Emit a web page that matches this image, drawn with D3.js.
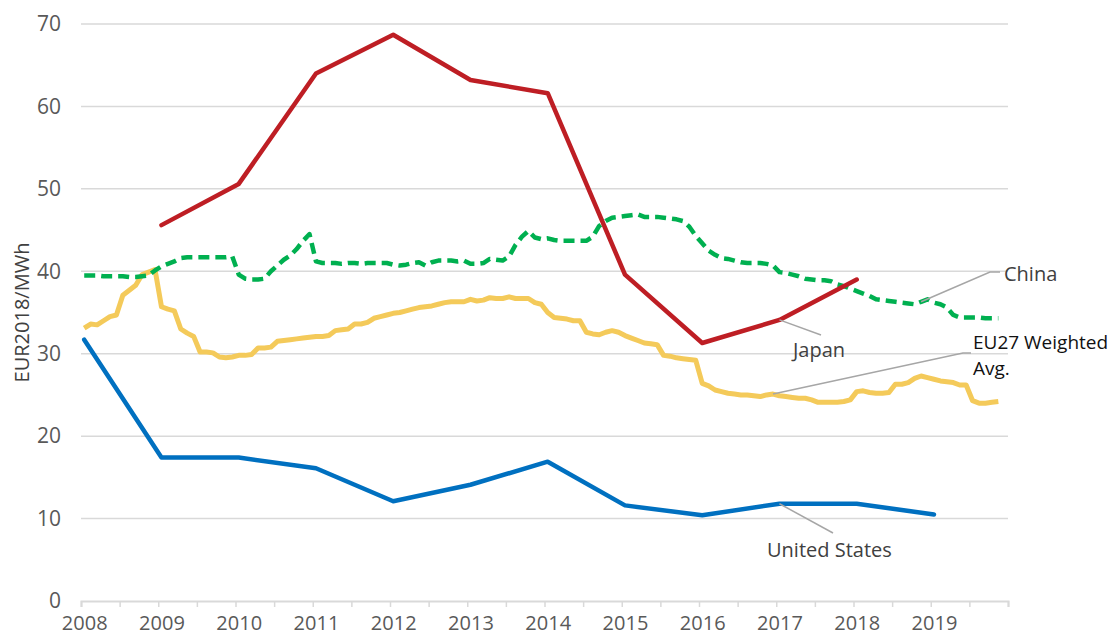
<!DOCTYPE html>
<html>
<head>
<meta charset="utf-8">
<script src="https://cdn.jsdelivr.net/npm/d3@7"></script>
<style>
body{margin:0;background:#fff;}
svg{display:block;font-family:"Open Sans",sans-serif;}
</style>
</head>
<body>
<div id="chart"></div>
<script>
// Coal/power price comparison, EUR2018/MWh. Monthly series start Jan 2008.

const START_YEAR = 2008;
const YEAR_LABELS = [2008, 2009, 2010, 2011, 2012, 2013, 2014, 2015, 2016, 2017, 2018, 2019];
const Y_TICKS = [0, 10, 20, 30, 40, 50, 60, 70];

const usYears = [2008, 2009, 2010, 2011, 2012, 2013, 2014, 2015, 2016, 2017, 2018, 2019];
const usValues = [31.7, 17.4, 17.4, 16.1, 12.1, 14.1, 16.9, 11.6, 10.4, 11.8, 11.8, 10.5];

const japanYears = [2009, 2010, 2011, 2012, 2013, 2014, 2015, 2016, 2017, 2018];
const japanValues = [45.6, 50.6, 64.0, 68.7, 63.2, 61.6, 39.6, 31.3, 34.1, 39.0];

const chinaMonthly = [
  39.5, 39.5, 39.5, 39.4, 39.4, 39.4, 39.4, 39.3, 39.3, 39.4, 39.5, 40.1,
  40.6, 40.9, 41.2, 41.6, 41.7, 41.7, 41.7, 41.7, 41.7, 41.7, 41.7, 41.8,
  39.6, 39.1, 39.0, 39.0, 39.1, 40.0, 40.7, 41.4, 41.9, 42.7, 43.7, 44.5,
  41.2, 41.0, 41.0, 41.0, 40.9, 41.0, 41.0, 40.9, 41.0, 41.0, 41.0, 41.0,
  40.8, 40.7, 40.8, 41.0, 41.1, 40.7, 41.1, 41.3, 41.3, 41.3, 41.2, 41.3,
  40.9, 40.9, 41.0, 41.5, 41.4, 41.3, 41.8, 43.2, 44.2, 44.9, 44.1, 43.9,
  44.0, 43.8, 43.7, 43.7, 43.7, 43.7, 43.7, 44.2, 45.5, 46.1, 46.5, 46.6,
  46.7, 46.8, 46.9, 46.6, 46.6, 46.6, 46.5, 46.4, 46.3, 46.1, 45.4, 44.3,
  43.4, 42.5, 42.0, 41.6, 41.5, 41.3, 41.1, 41.0, 41.0, 41.0, 40.9, 40.7,
  39.9, 39.8, 39.6, 39.4, 39.1, 39.0, 38.9, 38.9, 38.8, 38.4, 38.2, 37.9,
  37.6, 37.3, 37.0, 36.6, 36.5, 36.4, 36.3, 36.2, 36.1, 36.0, 36.3, 36.6,
  36.2, 36.0, 35.6, 34.7, 34.4, 34.4, 34.4, 34.4, 34.3, 34.3, 34.3
];

const eu27Monthly = [
  33.1, 33.6, 33.5, 34.0, 34.5, 34.7, 37.1, 37.7, 38.3, 39.6, 39.9, 40.2,
  35.7, 35.4, 35.2, 33.0, 32.5, 32.1, 30.2, 30.2, 30.1, 29.6, 29.5, 29.6,
  29.8, 29.8, 29.9, 30.7, 30.7, 30.8, 31.5, 31.6, 31.7, 31.8, 31.9, 32.0,
  32.1, 32.1, 32.2, 32.8, 32.9, 33.0, 33.6, 33.6, 33.8, 34.3, 34.5, 34.7,
  34.9, 35.0, 35.2, 35.4, 35.6, 35.7, 35.8, 36.0, 36.2, 36.3, 36.3, 36.3,
  36.6, 36.4, 36.5, 36.8, 36.7, 36.7, 36.9, 36.7, 36.7, 36.7, 36.2, 36.0,
  35.0, 34.4, 34.3, 34.2, 34.0, 34.0, 32.6, 32.4, 32.3, 32.6, 32.8, 32.6,
  32.2, 31.9, 31.6, 31.3, 31.2, 31.1, 29.8, 29.7, 29.5, 29.4, 29.3, 29.2,
  26.4, 26.1, 25.6, 25.4, 25.2, 25.1, 25.0, 25.0, 24.9, 24.8, 25.0, 25.1,
  24.9, 24.8, 24.7, 24.6, 24.6, 24.4, 24.1, 24.1, 24.1, 24.1, 24.2, 24.4,
  25.4, 25.5, 25.3, 25.2, 25.2, 25.3, 26.3, 26.3, 26.5, 27.0, 27.3, 27.1,
  26.9, 26.7, 26.6, 26.5, 26.2, 26.2, 24.3, 24.0, 24.0, 24.1, 24.2
];

const RED = "#BE1E24";
const BLUE = "#0070C0";
const GREEN = "#00B050";
const YELLOW = "#F4CA5A";
const GRID = "#D9D9D9";
const LEADER = "#A6A6A6";

const width = 1117, height = 636;
const svg = d3.select("#chart").append("svg")
  .attr("width", width)
  .attr("height", height);

// x in months since Jan 2008, points sit in the middle of their month
const x = d3.scaleLinear().domain([0, 144]).range([81, 1008]);
const y = d3.scaleLinear().domain([0, 70]).range([601, 24]);
const mx = m => x(m + 0.5);
const yearMonth = yr => (yr - START_YEAR) * 12;

// gridlines
svg.append("g")
  .selectAll("line")
  .data(Y_TICKS.filter(d => d > 0))
  .enter().append("line")
  .attr("x1", x(0)).attr("x2", x(144))
  .attr("y1", d => y(d)).attr("y2", d => y(d))
  .attr("stroke", GRID)
  .attr("stroke-width", 1.5);

// y axis labels
const yAxis = svg.append("g")
  .attr("transform", `translate(${x(0)},0)`)
  .call(d3.axisLeft(y).tickValues(Y_TICKS).tickSize(0).tickPadding(20));
yAxis.select(".domain").remove();
yAxis.selectAll("text")
  .attr("fill", "#595959")
  .style("font-size", "21px")
  .style("font-family", "'Open Sans', sans-serif");

// x axis: half-year ticks, year labels centred on January
const halfYears = d3.range(0, 145, 6);
const xAxis = svg.append("g")
  .attr("transform", `translate(0,${y(0)})`)
  .call(d3.axisBottom(x).tickValues(halfYears).tickSize(6).tickFormat(""));
xAxis.select(".domain").attr("stroke", GRID).attr("stroke-width", 2);
xAxis.selectAll(".tick line").attr("stroke", GRID).attr("stroke-width", 1.5);

const xLabels = svg.append("g")
  .attr("transform", `translate(0,${y(0)})`)
  .call(d3.axisBottom(x)
    .tickValues(YEAR_LABELS.map(yr => yearMonth(yr) + 0.5))
    .tickSize(0).tickPadding(15)
    .tickFormat(d => START_YEAR + Math.floor(d / 12)));
xLabels.select(".domain").remove();
xLabels.selectAll("text")
  .attr("fill", "#595959")
  .style("font-size", "20px")
  .style("font-family", "'Open Sans', sans-serif");

// y title
svg.append("text")
  .attr("transform", `translate(29,${(y(0) + y(70)) / 2}) rotate(-90)`)
  .attr("text-anchor", "middle")
  .attr("fill", "#404040")
  .style("font-size", "20px")
  .text("EUR2018/MWh");

const line = d3.line()
  .x(d => mx(d.m))
  .y(d => y(d.v));

const eu27 = eu27Monthly.map((v, i) => ({ m: i, v }));
const china = chinaMonthly.map((v, i) => ({ m: i, v }));
const us = usValues.map((v, i) => ({ m: yearMonth(usYears[i]), v }));
const japan = japanValues.map((v, i) => ({ m: yearMonth(japanYears[i]), v }));

svg.append("path").datum(eu27)
  .attr("d", line)
  .attr("fill", "none")
  .attr("stroke", YELLOW)
  .attr("stroke-width", 5)
  .attr("stroke-linejoin", "round");

svg.append("path").datum(us)
  .attr("d", line)
  .attr("fill", "none")
  .attr("stroke", BLUE)
  .attr("stroke-width", 4.5)
  .attr("stroke-linejoin", "round")
  .attr("stroke-linecap", "round");

svg.append("path").datum(china)
  .attr("d", line)
  .attr("fill", "none")
  .attr("stroke", GREEN)
  .attr("stroke-width", 4.5)
  .attr("stroke-dasharray", "11,6")
  .attr("stroke-linejoin", "round");

svg.append("path").datum(japan)
  .attr("d", line)
  .attr("fill", "none")
  .attr("stroke", RED)
  .attr("stroke-width", 4.5)
  .attr("stroke-linejoin", "round")
  .attr("stroke-linecap", "round");

// data labels with leader lines
function leader(pt, pts){
  svg.append("polyline")
    .attr("points", [[mx(pt.m), y(pt.v)]].concat(pts).map(p => p.join(",")).join(" "))
    .attr("fill", "none")
    .attr("stroke", LEADER)
    .attr("stroke-width", 1.5);
}

leader(china[130], [[990, 272], [1000, 272]]);
leader(japan[8], [[821, 335]]);
leader(eu27[107], [[963, 353], [971, 353]]);
leader(us[9], [[833, 533]]);

const labels = [
  { text: ["China"], x: 1004, y: 281, size: 20, fill: "#404040" },
  { text: ["Japan"], x: 793, y: 357, size: 20, fill: "#404040" },
  { text: ["United States"], x: 767, y: 557, size: 20, fill: "#404040" },
  { text: ["EU27 Weighted", "Avg."], x: 973, y: 349, size: 19, fill: "#111" }
];
const labelText = svg.append("g").selectAll("text")
  .data(labels)
  .enter().append("text")
  .attr("x", d => d.x)
  .attr("y", d => d.y)
  .attr("fill", d => d.fill)
  .style("font-size", d => d.size + "px");
labelText.selectAll("tspan")
  .data(d => d.text.map((t, i) => ({ t, i, x: d.x })))
  .enter().append("tspan")
  .attr("x", d => d.x)
  .attr("dy", d => d.i ? 26 : 0)
  .text(d => d.t);
</script>
</body>
</html>
